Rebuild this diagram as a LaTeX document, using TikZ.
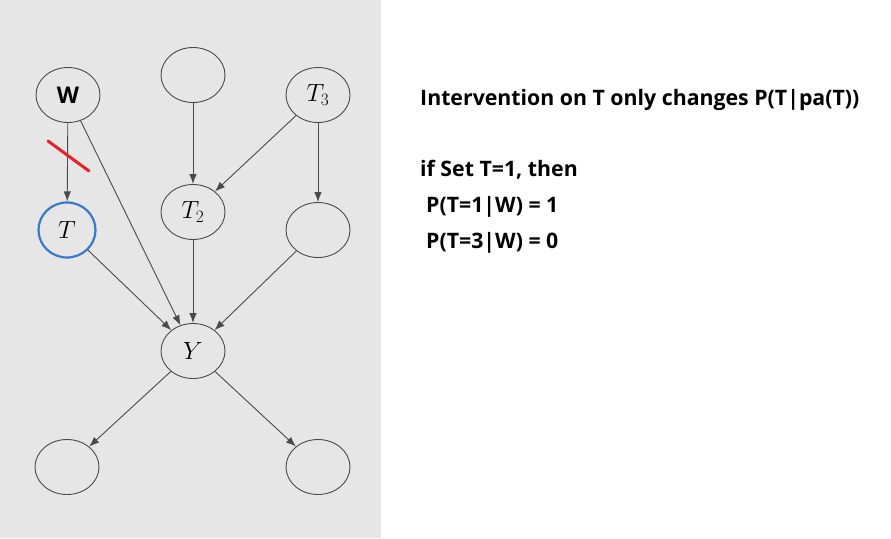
\documentclass[tikz,border=0pt]{standalone}
\usepackage{fontspec}
\newfontfamily\osans{Open Sans}
\usetikzlibrary{shapes.geometric,arrows.meta}
\definecolor{panel}{HTML}{E6E6E6}
\definecolor{edgegray}{HTML}{4A4A4A}
\definecolor{tblue}{HTML}{3A78C9}
\definecolor{cutred}{HTML}{E8202A}
\begin{document}
\begin{tikzpicture}[x=1pt,y=-1pt,
  var/.style={ellipse,draw=edgegray,line width=0.9pt,minimum width=64pt,minimum height=55pt,inner sep=0pt,font=\fontsize{25}{28}\selectfont},
  arr/.style={draw=edgegray,line width=0.9pt,-{Latex[length=10pt,width=7.5pt]}},
  txt/.style={font=\osans\bfseries\fontsize{21.3}{24}\selectfont,anchor=base west,inner sep=0pt}]
\useasboundingbox (0,0) rectangle (891,538);
\fill[panel] (0,0) rectangle (381,538);
\node[var] (W) at (68,95) {\osans\bfseries\fontsize{23}{26}\selectfont W};
\node[var] (top) at (193,75) {};
\node[var] (T3) at (318,95) {$T_3$};
\node[var,draw=tblue,line width=2.2pt,minimum width=57pt,minimum height=55pt] (T) at (67,230) {$T$};
\node[var] (T2) at (193,212) {$T_2$};
\node[var] (R) at (318,230) {};
\node[var] (Y) at (193,351) {$Y$};
\node[var] (BL) at (67,467) {};
\node[var] (BR) at (318,467) {};
\draw[arr] (W) -- (T);
\draw[arr] (W) -- (Y);
\draw[arr] (top) -- (T2);
\draw[arr] (T3) -- (T2);
\draw[arr] (T3) -- (R);
\draw[arr] (T) -- (Y);
\draw[arr] (T2) -- (Y);
\draw[arr] (R) -- (Y);
\draw[arr] (Y) -- (BL);
\draw[arr] (Y) -- (BR);
\coordinate (c1) at (48,141);
\coordinate (c2) at (89,171);
\draw[cutred,line width=3pt,line cap=round] (c1) -- (c2);
\node[txt] (t1) at (420,105) {Intervention on T only changes P(T|pa(T))};
\node[txt] (t2) at (420,176) {if Set T=1, then};
\node[txt] (t3) at (426,212) {P(T=1|W) = 1};
\node[txt] (t4) at (426,248) {P(T=3|W) = 0};
\end{tikzpicture}
\end{document}
